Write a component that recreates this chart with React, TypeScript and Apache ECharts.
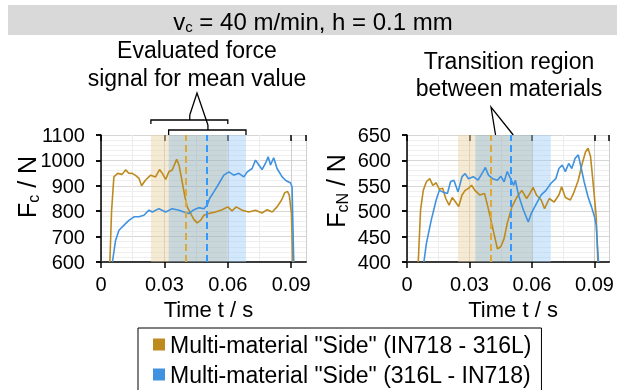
import React, { useEffect, useRef } from "react";
import * as echarts from "echarts";

const GOLD = "#bd8a1e";
const BLUE = "#3f92e0";
const NAME_A = 'Multi-material "Side" (IN718 - 316L)';
const NAME_B = 'Multi-material "Side" (316L - IN718)';

// Cutting force F_c (left chart)
const fcGoldT = [0.0042, 0.005, 0.0061, 0.0079, 0.01, 0.0117, 0.013, 0.0148, 0.0165, 0.018, 0.0192, 0.021, 0.0235, 0.0258, 0.0277, 0.029, 0.0306, 0.0321, 0.0337, 0.0358, 0.0369, 0.0384, 0.0397, 0.0408, 0.0424, 0.044, 0.0455, 0.0471, 0.0487, 0.051, 0.0542, 0.0573, 0.06, 0.062, 0.064, 0.0668, 0.0699, 0.0731, 0.0762, 0.0786, 0.081, 0.0833, 0.0854, 0.0869, 0.0882, 0.0891, 0.0901, 0.0907];
const fcGoldV = [600, 800, 935, 949, 945, 963, 950, 949, 940, 929, 900, 922, 942, 935, 964, 949, 925, 955, 962, 1004, 982, 916, 857, 817, 791, 767, 754, 764, 784, 791, 797, 806, 817, 801, 817, 804, 797, 804, 793, 806, 797, 817, 843, 872, 878, 863, 791, 600];
const fcBlueT = [0.0054, 0.0069, 0.0085, 0.0109, 0.0132, 0.0156, 0.018, 0.0203, 0.0227, 0.0243, 0.0274, 0.0306, 0.0337, 0.0369, 0.0392, 0.0416, 0.044, 0.0463, 0.0487, 0.0502, 0.0514, 0.0534, 0.0558, 0.0581, 0.0605, 0.0628, 0.0652, 0.0676, 0.0692, 0.0715, 0.0731, 0.0747, 0.0762, 0.0778, 0.0791, 0.0802, 0.0817, 0.0833, 0.0857, 0.0876, 0.0896, 0.0904, 0.0912];
const fcBlueV = [600, 685, 725, 745, 764, 778, 778, 784, 804, 797, 810, 797, 810, 804, 797, 791, 806, 814, 810, 824, 850, 876, 909, 942, 955, 942, 949, 935, 955, 968, 1001, 982, 964, 988, 1014, 982, 1010, 968, 935, 920, 912, 896, 600];

// Normal force F_cN (right chart)
const fcnGoldT = [0.0054, 0.0065, 0.0078, 0.0093, 0.0109, 0.0124, 0.014, 0.0155, 0.0171, 0.0186, 0.0202, 0.0217, 0.0233, 0.0248, 0.0264, 0.0279, 0.0295, 0.031, 0.0326, 0.0349, 0.0372, 0.0388, 0.0403, 0.0419, 0.0434, 0.045, 0.0466, 0.0481, 0.0504, 0.0528, 0.0551, 0.0574, 0.059, 0.0605, 0.0621, 0.0644, 0.066, 0.0683, 0.0706, 0.0729, 0.0742, 0.076, 0.0784, 0.0799, 0.0822, 0.0841, 0.0857, 0.0869, 0.0881, 0.0895, 0.0908, 0.0916];
const fcnGoldV = [400, 502, 541, 558, 564, 551, 556, 543, 545, 525, 512, 527, 518, 509, 532, 541, 545, 551, 541, 532, 535, 509, 482, 453, 426, 430, 446, 476, 509, 528, 541, 525, 535, 547, 532, 522, 505, 525, 518, 532, 548, 527, 522, 535, 561, 594, 617, 624, 607, 548, 489, 400];
const fcnBlueT = [0.0081, 0.0093, 0.0116, 0.014, 0.0155, 0.0171, 0.0194, 0.0209, 0.0225, 0.0245, 0.0264, 0.0279, 0.0295, 0.0318, 0.0341, 0.0365, 0.0376, 0.0391, 0.0411, 0.0434, 0.045, 0.0466, 0.0481, 0.0497, 0.0512, 0.052, 0.0535, 0.0559, 0.0582, 0.0597, 0.0621, 0.0644, 0.0667, 0.0691, 0.0714, 0.0729, 0.0745, 0.076, 0.0776, 0.0791, 0.0807, 0.0822, 0.0835, 0.085, 0.0869, 0.0885, 0.09, 0.0908, 0.0919];
const fcnBlueV = [400, 436, 482, 522, 541, 538, 535, 558, 561, 538, 568, 574, 564, 568, 561, 578, 586, 571, 564, 561, 569, 558, 578, 564, 551, 561, 532, 502, 479, 496, 515, 532, 541, 555, 564, 584, 591, 578, 594, 584, 604, 611, 587, 558, 528, 509, 489, 472, 400];

// Evaluation windows and transition positions [s]
const fcGoldWindow = [0.0236, 0.06];
const fcBlueWindow = [0.032, 0.0686];
const fcDashes = [0.042, 0.0506];
const fcnGoldWindow = [0.0245, 0.0602];
const fcnBlueWindow = [0.0328, 0.069];
const fcnDashes = [0.0425, 0.051];

const X_MIN = 0;
const X_MAX = 0.097;
const X_STEP = 0.03;
const fcRange = [600, 1100, 100];
const fcnRange = [400, 650, 50];

const FONT = "Liberation Sans, Arial, sans-serif";

const zip = (t: number[], v: number[]) => t.map((x, i) => [x, v[i]]);

export default function App() {
  const ref = useRef<HTMLDivElement>(null);
  useEffect(() => {
    const chart = echarts.init(ref.current!, null, { renderer: "svg" });

    const mkX = (grid: number, main: boolean) => ({
      type: "value",
      gridIndex: grid,
      min: X_MIN,
      max: X_MAX,
      interval: X_STEP,
      axisLine: { show: main, onZero: false, lineStyle: { color: "#3a3a3a", width: 2 } },
      axisTick: { show: true, inside: !main, length: 6, lineStyle: { color: "#000", width: 1.5 } },
      axisLabel: {
        show: main,
        showMaxLabel: false,
        margin: 12,
        fontSize: 20,
        fontFamily: FONT,
        color: "#000",
        formatter: (v: number) => (v === 0 ? "0" : String(+v.toFixed(3))),
      },
      splitLine: { show: main, lineStyle: { color: "#cfcfcf", width: 1 } },
      minorTick: { show: false, splitNumber: 2 },
      minorSplitLine: { show: main, lineStyle: { color: "#ececec", width: 1 } },
      name: main ? "Time t / s" : "",
      nameLocation: "middle",
      nameGap: 36,
      nameTextStyle: { fontSize: 22, fontFamily: FONT, color: "#000", padding: [0, 0, 0, 10] },
    });

    const mkY = (grid: number, main: boolean, range: number[]) => ({
      type: "value",
      gridIndex: grid,
      min: range[0],
      max: range[1],
      interval: range[2],
      axisLine: { show: main, lineStyle: { color: "#000", width: 1.5 } },
      axisTick: { show: true, inside: !main, length: 5, lineStyle: { color: "#000", width: 1.5 } },
      axisLabel: {
        show: main,
        margin: 16,
        fontSize: 20,
        fontFamily: FONT,
        color: "#000",
        formatter: (v: number) => String(v),
      },
      splitLine: { show: main, lineStyle: { color: "#d6d6d6", width: 1 } },
      minorTick: { show: false, splitNumber: 5 },
      minorSplitLine: { show: main, lineStyle: { color: "#efefef", width: 1 } },
    });

    const bandSeries = (x: number, y: number, gw: number[], bw: number[], dashes: number[]) => ({
      type: "line",
      xAxisIndex: x,
      yAxisIndex: y,
      data: [],
      silent: true,
      z: 1,
      markArea: {
        silent: true,
        data: [
          [{ xAxis: gw[0], itemStyle: { color: "rgba(232,208,158,0.45)" } }, { xAxis: bw[0] }],
          [{ xAxis: bw[0], itemStyle: { color: "rgba(150,176,182,0.5)" } }, { xAxis: gw[1] }],
          [{ xAxis: gw[1], itemStyle: { color: "rgba(160,205,246,0.45)" } }, { xAxis: bw[1] }],
        ],
      },
      markLine: {
        silent: true,
        symbol: "none",
        label: { show: false },
        data: [
          { xAxis: dashes[0], lineStyle: { color: "#e0a937", width: 2, type: [7, 4] } },
          { xAxis: dashes[1], lineStyle: { color: "#3399ff", width: 2, type: [7, 4] } },
        ],
      },
    });

    const lineSeries = (name: string, color: string, x: number, y: number, data: number[][]) => ({
      name,
      type: "line",
      xAxisIndex: x,
      yAxisIndex: y,
      data,
      showSymbol: false,
      symbol: "none",
      clip: true,
      z: 3,
      itemStyle: { color },
      lineStyle: { color, width: 1.6 },
    });

    chart.setOption({
      animation: false,
      textStyle: { fontFamily: FONT },
      grid: [
        { left: 101, top: 135, width: 205, height: 127 },
        { left: 407, top: 135, width: 208, height: 127 },
      ],
      xAxis: [mkX(0, true), mkX(1, true), mkX(0, false), mkX(1, false)],
      yAxis: [mkY(0, true, fcRange), mkY(1, true, fcnRange), mkY(0, false, fcRange), mkY(1, false, fcnRange)],
      legend: {
        orient: "vertical",
        left: 138,
        top: 328,
        height: 80,
        padding: [5, 10, 20, 15],
        itemGap: 7,
        icon: "rect",
        itemWidth: 12,
        itemHeight: 12,
        borderColor: "#000",
        borderWidth: 1,
        textStyle: { fontSize: 23, fontFamily: FONT, color: "#000" },
        data: [NAME_A, NAME_B],
      },
      series: [
        bandSeries(0, 0, fcGoldWindow, fcBlueWindow, fcDashes),
        bandSeries(1, 1, fcnGoldWindow, fcnBlueWindow, fcnDashes),
        lineSeries(NAME_A, GOLD, 0, 0, zip(fcGoldT, fcGoldV)),
        lineSeries(NAME_B, BLUE, 0, 0, zip(fcBlueT, fcBlueV)),
        lineSeries(NAME_A, GOLD, 1, 1, zip(fcnGoldT, fcnGoldV)),
        lineSeries(NAME_B, BLUE, 1, 1, zip(fcnBlueT, fcnBlueV)),
      ],
    });

    const px0 = (t: number) => (chart.convertToPixel({ xAxisIndex: 0, yAxisIndex: 0 }, [t, fcRange[1]]) as number[])[0];
    const px1 = (t: number) => (chart.convertToPixel({ xAxisIndex: 1, yAxisIndex: 1 }, [t, fcnRange[1]]) as number[])[0];
    const top = 135;
    const ln = { stroke: "#000", lineWidth: 1.3, fill: null as any };

    const gL = px0(fcGoldWindow[0]);
    const gR = px0(fcGoldWindow[1]);
    const gC = px0(fcDashes[0]);
    const bL = px0(fcBlueWindow[0]);
    const bR = px0(fcBlueWindow[1]);
    const bC = px0(fcDashes[1]);
    const rG = px1(fcnDashes[0]);
    const rB = px1(fcnDashes[1]);

    const richName = {
      a: { fontSize: 25, fontFamily: FONT, fill: "#000", lineHeight: 28 },
      s: { fontSize: 16, fontFamily: FONT, fill: "#000", lineHeight: 12, verticalAlign: "bottom" },
    };
    const ann = (x: number, y: number, text: string) => ({
      type: "text",
      style: { x, y, text, font: `23px ${FONT}`, fill: "#000", align: "center", verticalAlign: "middle" },
    });

    chart.setOption({
      graphic: {
        elements: [
          { type: "rect", shape: { x: 8, y: 5, width: 609, height: 30 }, style: { fill: "#d9d9d9" }, z: 0 },
          {
            type: "text",
            style: {
              x: 313,
              y: 21,
              text: "{a|v}{s|c}{a| = 40 m/min, h = 0.1 mm}",
              rich: {
                a: { fontSize: 24, fontFamily: FONT, fill: "#000", lineHeight: 26 },
                s: { fontSize: 15, fontFamily: FONT, fill: "#000", lineHeight: 12, verticalAlign: "bottom" },
              },
              align: "center",
              verticalAlign: "middle",
            },
          },
          {
            type: "text",
            x: 27,
            y: 187,
            rotation: Math.PI / 2,
            style: { x: 0, y: 0, text: "{a|F}{s|c}{a| / N}", rich: richName, align: "center", verticalAlign: "middle" },
          },
          {
            type: "text",
            x: 336,
            y: 191,
            rotation: Math.PI / 2,
            style: { x: 0, y: 0, text: "{a|F}{s|cN}{a| / N}", rich: richName, align: "center", verticalAlign: "middle" },
          },
          ann(197, 50, "Evaluated force"),
          ann(197, 77.5, "signal for mean value"),
          ann(509, 61, "Transition region"),
          ann(509, 88, "between materials"),
          // upper bracket (IN718 - 316L window)
          { type: "polyline", shape: { points: [[gL, 124], [gL, 120], [gR, 120], [gR, 124]] }, style: ln },
          { type: "line", shape: { x1: gC, y1: 120, x2: gC, y2: 115 }, style: ln },
          // lower bracket (316L - IN718 window)
          { type: "polyline", shape: { points: [[bL, top], [bL, 130], [bR, 130], [bR, top]] }, style: ln },
          { type: "line", shape: { x1: bC, y1: 130, x2: bC, y2: 125 }, style: ln },
          // pointers
          { type: "polyline", shape: { points: [[gC, 115], [197, 93], [bC, 125]] }, style: ln },
          { type: "polyline", shape: { points: [[rG, top], [491, 107], [rB, top]] }, style: ln },
        ],
      },
    });

    return () => chart.dispose();
  }, []);
  return <div ref={ref} style={{ position: "fixed", left: 0, top: 0, width: 617, height: 390 }} />;
}
